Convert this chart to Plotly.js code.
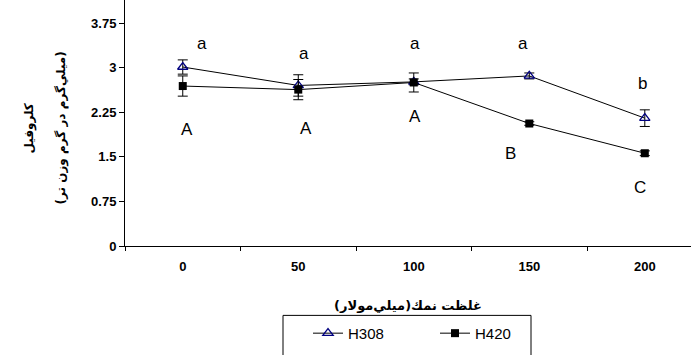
<!DOCTYPE html>
<html>
<head>
<meta charset="utf-8">
<script src="https://cdn.plot.ly/plotly-3.0.1.min.js"></script>
<style>html,body{margin:0;padding:0;background:#fff;}#chart{width:691px;height:355px;}</style>
</head>
<body>
<div id="chart"></div>
<script>
// ---- data ----
var categories = ['0', '50', '100', '150', '200'];
var h308 = [3.01, 2.70, 2.76, 2.86, 2.15];
var h308Err = [0.12, 0.18, 0.05, 0.05, 0.14];
var h420 = [2.69, 2.63, 2.75, 2.06, 1.56];
var h420Err = [0.17, 0.17, 0.16, 0.03, 0.04];
var lettersH308 = ['a', 'a', 'a', 'a', 'b'];
var lettersH420 = ['A', 'A', 'A', 'B', 'C'];
var yTickVals = [0, 0.75, 1.5, 2.25, 3, 3.75];
var yTickText = ['0', '0.75', '1.5', '2.25', '3', '3.75'];
var seriesNames = ['H308', 'H420'];
var xTitle = 'غلظت نمك(ميلي‌مولار)';
var yTitle1 = 'كلروفيل';
var yTitle2 = '(ميلي‌گرم در گرم وزن تر)';

// ---- letter placement (layout only) ----
var placeH308 = [{y: 3.41, dx: 19}, {y: 3.23, dx: 6}, {y: 3.41, dx: 1}, {y: 3.41, dx: -6}, {y: 2.74, dx: -2}];
var placeH420 = [{y: 1.96, dx: 4}, {y: 1.98, dx: 8}, {y: 2.17, dx: 1}, {y: 1.56, dx: -19}, {y: 0.99, dx: -5}];

var latin = 'Liberation Sans, Arial, sans-serif';
var arab = 'DejaVu Sans, sans-serif';

var traces = [
  {
    x: categories, y: h308, name: seriesNames[0], type: 'scatter', mode: 'lines+markers',
    line: {color: '#000000', width: 1},
    marker: {symbol: 'triangle-up-open', size: 9, color: '#000080', line: {color: '#000080', width: 1.3}},
    error_y: {type: 'data', array: h308Err, visible: true, color: '#000000', thickness: 1, width: 5}
  },
  {
    x: categories, y: h420, name: seriesNames[1], type: 'scatter', mode: 'lines+markers',
    line: {color: '#000000', width: 1},
    marker: {symbol: 'square', size: 8, color: '#000000'},
    error_y: {type: 'data', array: h420Err, visible: true, color: '#000000', thickness: 1, width: 5}
  }
];

var annotations = [];
function addLetters(letters, place) {
  letters.forEach(function (t, i) {
    annotations.push({
      x: i, y: place[i].y, xref: 'x', yref: 'y', text: t, showarrow: false,
      xshift: place[i].dx, font: {family: latin, size: 17, color: '#000'}
    });
  });
}
addLetters(lettersH308, placeH308);
addLetters(lettersH420, placeH420);

annotations.push({
  xref: 'paper', yref: 'paper', x: (20 - 125) / 566, y: 0.48, text: yTitle1, textangle: -90,
  showarrow: false, font: {family: arab, size: 12, color: '#000', weight: 'bold'}
});
annotations.push({
  xref: 'paper', yref: 'paper', x: (52 - 125) / 566, y: 0.48, text: yTitle2, textangle: -90,
  showarrow: false, font: {family: arab, size: 12, color: '#000', weight: 'bold'}
});

var layout = {
  width: 691, height: 355,
  margin: {l: 125, r: 0, t: 0, b: 109, pad: 0},
  paper_bgcolor: '#ffffff', plot_bgcolor: '#ffffff',
  showlegend: true,
  xaxis: {
    type: 'category', range: [-0.5, 4.4], tickson: 'boundaries',
    showline: true, linecolor: '#000', linewidth: 1, showgrid: false, zeroline: false,
    ticks: 'outside', ticklen: 4, tickcolor: '#000', ticklabelstandoff: 8,
    tickfont: {family: latin, size: 13, color: '#000', weight: 'bold'},
    title: {text: xTitle, font: {family: arab, size: 13, color: '#000', weight: 'bold'}, standoff: 28},
    automargin: false, fixedrange: true
  },
  yaxis: {
    range: [0, 4.137], tickvals: yTickVals, ticktext: yTickText,
    showline: true, linecolor: '#000', linewidth: 1, showgrid: false, zeroline: false,
    ticks: 'outside', ticklen: 5, tickcolor: '#000',
    tickfont: {family: latin, size: 13, color: '#000', weight: 'bold'},
    automargin: false, fixedrange: true
  },
  legend: {
    orientation: 'h', x: (308 - 125) / 566, xanchor: 'left', y: (245.7 - 333) / 245.7, yanchor: 'middle',
    bgcolor: 'rgba(0,0,0,0)', borderwidth: 0, entrywidth: 82,
    font: {family: latin, size: 15, color: '#000'}
  },
  shapes: [{
    type: 'rect', xref: 'paper', yref: 'paper',
    x0: (283 - 125) / 566, x1: (531 - 125) / 566, y0: (245.7 - 315) / 245.7, y1: -0.6,
    line: {color: '#000', width: 1}, fillcolor: 'rgba(0,0,0,0)'
  }],
  annotations: annotations
};

Plotly.newPlot('chart', traces, layout, {displayModeBar: false, staticPlot: true});
</script>
</body>
</html>
